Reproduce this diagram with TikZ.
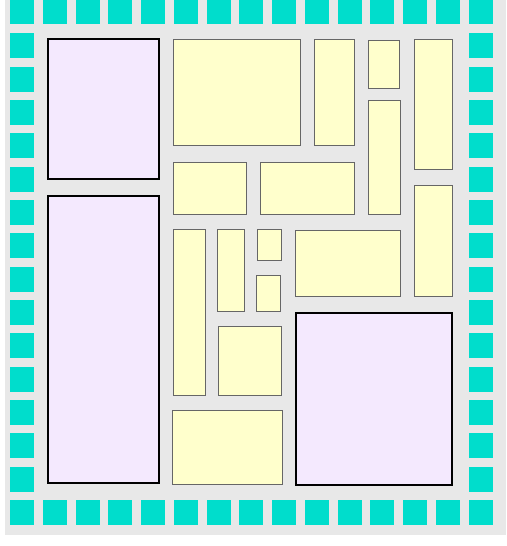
\documentclass[tikz,border=0pt]{standalone}
\usepackage{tikz}
\definecolor{padcol}{RGB}{0,221,204}
\definecolor{macrocol}{RGB}{244,233,254}
\definecolor{cellcol}{RGB}{255,255,204}
\definecolor{diecol}{RGB}{232,232,232}
\begin{document}
\begin{tikzpicture}[x=1pt,y=-1pt,
  die/.style={fill=diecol,draw=none},
  pad/.style={fill=padcol,draw=none},
  macro/.style={fill=macrocol,draw=black,line width=2.6pt},
  cell/.style={fill=cellcol,draw=black!60,line width=0.9pt},
  shade/.style={fill=black!25,draw=none}]
\useasboundingbox (0,0) rectangle (506,546);
\fill[white] (0,0) rectangle (506,546);
\fill[die] (5,0) rectangle (506,534.5);
% pad ring
\foreach \i in {0,...,14} {
  \fill[pad] ({10+32.75*\i},0) rectangle ++(24,24);
  \fill[pad] ({10+32.75*\i},500) rectangle ++(24,25);
}
\foreach \j in {1,...,14} {
  \fill[pad] (10,{33.33*\j}) rectangle ++(24,25);
  \fill[pad] (469,{33.33*\j}) rectangle ++(24,25);
}
% hard macros
\draw[macro] (48,39) rectangle (159,179);
\draw[macro] (48,196) rectangle (159,483);
\draw[macro] (296,313) rectangle (452,485);
% standard cell blocks
\foreach \a/\b/\c/\d in {173/39/300/145, 314/39/354/145, 368/40/399/88,
  414/39/452/169, 368/100/400/214, 414/185/452/296, 173/162/246/214,
  260/162/354/214, 173/229/205/395, 217/229/244/311, 257/229/281/260,
  256/275/280/311, 295/230/400/296, 218/326/281/395, 172/410/282/484} {
  \fill[shade] (\a+1,\b+1) rectangle (\c+1.2,\d+1.2);
  \draw[cell] (\a,\b) rectangle (\c,\d);
}
\end{tikzpicture}
\end{document}
